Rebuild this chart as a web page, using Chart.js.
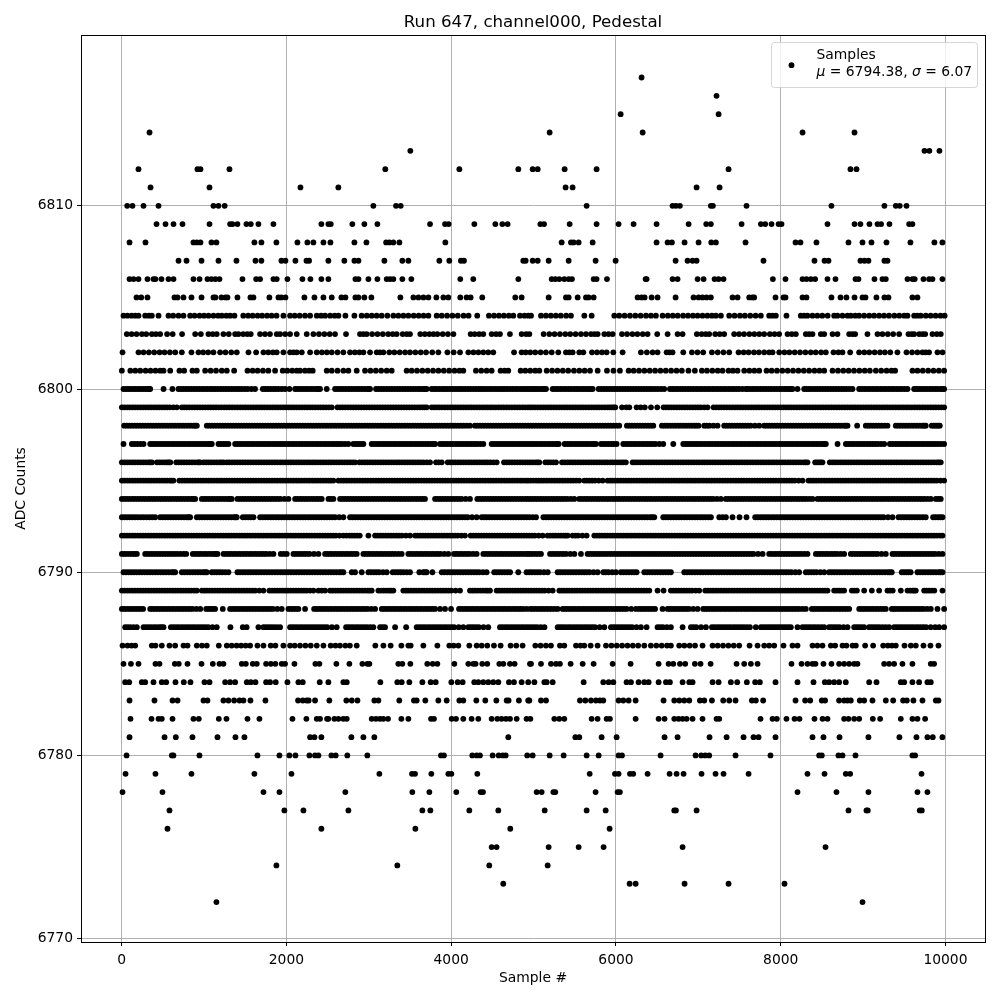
<!DOCTYPE html>
<html><head><meta charset="utf-8">
<style>html,body{margin:0;padding:0;background:#fff}#w{width:1000px;height:1000px}canvas{display:block}</style>
<script src="https://cdn.jsdelivr.net/npm/chart.js@4/dist/chart.umd.min.js"></script>
</head><body><div id="w"><canvas id="c" width="1000" height="1000"></canvas></div>
<script>
const chartTitle="Run 647, channel000, Pedestal";
const xLabel="Sample #";
const yLabel="ADC Counts";
const seriesName="Samples";
const meanText="6794.38";
const sigmaText="6.07";
const xTicks=[0,2000,4000,6000,8000,10000];
const yTicks=[6770,6780,6790,6800,6810];
const row6817=[6311];
const row6816=[7221];
const row6815=[6057,7246];
const row6814=[338,5195,6324,8265,8896];
const row6813=[3504,9745,9805,9927];
const row6812=[204,920,956,1308,3200,4099,4815,4989,5050,5377,5765,7367,8847,8920];
const row6811=[350,1066,2170,2630,5389,5474,6979,7258];
const row6810=[67,131,265,447,1114,1175,1250,3055,3330,3387,5644,6687,6728,6776,7152,7177,7585,8616,9259,9397,9445,9527];
const row6809=[423,532,629,738,1066,1316,1345,1405,1514,1567,1660,1842,2424,2509,2538,2800,2946,3104,3743,3925,3969,4281,4536,4621,4685,5082,5127,5438,5765,6032,6214,6493,6882,7096,7152,7525,7759,7812,7889,7974,8010,8568,8896,8968,9077,9175,9219,9320,9559,9599];
const row6808=[95,289,871,912,956,1090,1150,1611,1696,1878,2133,2254,2327,2449,2534,2825,2971,3210,3250,3298,3371,3929,5341,5454,5486,5547,5717,6493,6627,6679,6833,7003,7157,7213,7573,8180,8240,8434,8823,8993,9102,9284,9575,9866,9963];
const row6807=[690,787,969,1175,1393,1624,1696,1939,1988,2109,2243,2275,2509,2703,2825,2874,3189,3407,3480,3856,3977,4118,4155,4875,4904,4989,5050,5183,5426,5753,5996,6724,6869,6930,6979,7791,8410,8532,8580,8968,9017,9065,9259,9296];
const row6806=[95,144,204,313,386,410,483,568,629,871,945,1041,1090,1138,1187,1466,1632,1680,1842,1882,2012,2194,2291,2424,2509,2837,2874,2995,3104,3217,3258,3298,3407,3516,4110,4268,4815,5220,5264,5312,5373,5426,5466,5729,5765,5891,6360,6372,6687,6748,6991,7064,7197,7246,7306,7905,8058,8265,8313,8366,8418,8568,8665,8908,8944,9138,9235,9276,9539,9599,9627,9733,9801,9842,9963];
const row6805=[180,237,313,641,678,750,847,969,1114,1138,1211,1260,1284,1405,1563,1599,1793,1903,1939,1988,2218,2340,2449,2550,2667,2716,2837,2874,2946,3031,3383,3541,3602,3663,3723,3820,3905,3965,4110,4187,4236,4377,4778,4855,5183,5393,5426,5535,5636,5668,5729,6263,6311,6348,6433,6505,6724,6942,7003,7051,7100,7152,7415,7476,7618,7658,7678,7937,8034,8058,8265,8313,8616,8726,8798,8896,8993,9029,9162,9259,9308,9599,9660];
const row6804=[22,70,120,164,204,285,330,366,447,568,625,690,750,831,885,945,1000,1054,1114,1170,1215,1270,1316,1369,1476,1535,1590,1650,1705,1765,1820,1880,1963,2044,2100,2160,2225,2287,2368,2420,2469,2530,2585,2631,2716,2825,2913,2975,3035,3095,3156,3225,3298,3359,3420,3480,3545,3605,3665,3723,3824,3885,3950,4015,4080,4150,4211,4316,4458,4520,4580,4640,4700,4754,4835,4890,4936,4969,5090,5150,5210,5270,5330,5395,5454,5616,5705,5980,6040,6105,6170,6235,6300,6365,6425,6485,6566,6630,6690,6750,6815,6875,6935,6991,7051,7110,7165,7213,7274,7375,7440,7505,7565,7630,7695,7759,7860,7900,7941,8070,8244,8285,8325,8386,8445,8505,8570,8649,8689,8750,8811,8851,8905,8952,9013,9075,9134,9195,9255,9315,9380,9440,9500,9539,9620,9660,9700,9761,9820,9880,9940,9990];
const row6803=[62,120,180,245,298,366,415,467,551,619,733,892,961,1053,1105,1154,1235,1300,1377,1417,1475,1525,1567,1680,1740,1800,1882,1923,1985,2044,2125,2246,2327,2395,2460,2525,2590,2723,2893,2934,2974,3040,3105,3170,3235,3290,3338,3411,3460,3500,3625,3680,3735,3785,3832,3897,3960,4027,4236,4285,4340,4390,4491,4545,4592,4713,4855,4910,4949,5122,5191,5255,5320,5385,5445,5510,5575,5636,5697,5740,5778,5859,5910,5960,6073,6135,6200,6260,6325,6384,6501,6627,6748,6809,6982,7040,7090,7132,7205,7260,7314,7435,7495,7555,7620,7680,7740,7799,7868,7925,7981,8083,8135,8184,8305,8345,8386,8487,8528,8629,8689,8831,8870,8904,9053,9175,9235,9300,9365,9438,9551,9590,9620,9681,9720,9754,9842,9895,9943];
const row6802=[10,204,265,330,395,460,520,585,650,730,847,932,990,1050,1114,1195,1260,1330,1397,1539,1632,1721,1780,1835,1882,1963,2044,2085,2125,2186,2287,2368,2430,2490,2550,2620,2691,2772,2830,2885,2934,3015,3096,3135,3177,3249,3310,3375,3440,3500,3565,3630,3695,3770,3844,3954,4030,4107,4208,4270,4330,4390,4450,4511,4763,4855,4905,4960,5020,5085,5150,5220,5300,5393,5435,5474,5555,5604,5709,5770,5830,5887,5968,6081,6303,6375,6445,6505,6615,6650,6687,6817,6922,6990,7059,7165,7235,7305,7375,7488,7550,7610,7675,7735,7800,7860,7901,7982,8045,8105,8170,8235,8300,8365,8425,8490,8548,8641,8700,8750,8843,8952,9015,9075,9140,9205,9265,9330,9417,9527,9595,9660,9721,9760,9801,9903,9964];
const row6801=[2,105,165,225,290,350,410,467,508,589,701,758,859,912,1013,1080,1145,1215,1276,1365,1527,1590,1650,1715,1780,1862,1955,2010,2070,2125,2165,2225,2275,2319,2489,2550,2620,2691,2752,2853,2954,3020,3085,3150,3217,3278,3459,3520,3585,3650,3715,3780,3845,3910,3975,4040,4100,4147,4300,4365,4430,4491,4600,4650,4693,4843,4900,4960,5020,5070,5159,5225,5290,5355,5420,5490,5555,5620,5685,5778,5891,5970,6048,6154,6215,6280,6345,6410,6475,6540,6605,6670,6735,6800,6880,6958,7043,7105,7170,7235,7294,7367,7420,7476,7557,7620,7680,7739,7828,7890,7955,8020,8085,8150,8215,8280,8345,8410,8470,8528,8629,8695,8760,8825,8890,8955,9020,9082,9155,9220,9285,9345,9389,9599,9660,9725,9790,9855,9920,9984];
const row6800=[22,80,140,200,260,320,346,508,616,689,750,815,880,945,1010,1075,1135,1200,1265,1330,1395,1460,1530,1619,1713,1775,1840,1905,1983,2036,2105,2170,2235,2300,2365,2408,2489,2590,2655,2720,2785,2850,2915,2980,3015,3087,3150,3215,3280,3345,3410,3475,3540,3605,3660,3702,3763,3825,3890,3950,4015,4080,4140,4205,4270,4335,4395,4460,4525,4590,4650,4715,4780,4845,4905,4960,4989,5040,5100,5151,5232,5295,5360,5425,5490,5550,5610,5670,5717,5790,5855,5920,5985,6050,6115,6180,6245,6310,6375,6440,6510,6586,6655,6715,6780,6845,6910,6975,7040,7105,7170,7235,7300,7365,7430,7495,7577,7597,7660,7725,7790,7855,7920,7985,8050,8105,8143,8204,8285,8345,8410,8475,8540,8605,8670,8735,8800,8871,8952,9015,9080,9145,9210,9275,9340,9405,9470,9539,9620,9680,9745,9810,9875,9940,9984];
const more6800=[51,110,170,230,290,333,720,782,847,912,977,1042,1105,1167,1232,1297,1362,1427,1495,1575,1744,1807,1872,1944,2137,2202,2267,2332,2386,2622,2687,2752,2817,2882,2947,2997,3118,3182,3247,3312,3377,3442,3507,3572,3632,3681,3794,3857,3920,3982,4047,4110,4172,4237,4302,4365,4427,4492,4557,4620,4682,4747,4812,4875,4932,5014,5070,5125,5263,5327,5392,5457,5520,5580,5640,5693,5822,5887,5952,6017,6082,6147,6212,6277,6342,6407,6475,6548,6685,6747,6812,6877,6942,7007,7072,7137,7202,7267,7332,7397,7462,7536,7628,7692,7757,7822,7887,7952,8017,8077,8124,8315,8377,8442,8507,8572,8637,8702,8767,8835,8983,9047,9112,9177,9242,9307,9372,9437,9505,9650,9712,9777,9842,9907,9962];
const row6799=[2,65,130,195,260,325,390,455,520,585,669,730,790,855,920,985,1050,1115,1180,1245,1310,1375,1440,1505,1570,1635,1700,1765,1830,1895,1960,2025,2090,2155,2220,2285,2350,2415,2480,2550,2619,2680,2745,2810,2875,2940,3005,3070,3135,3200,3265,3330,3395,3460,3525,3590,3650,3702,3763,3825,3890,3955,4020,4085,4150,4215,4280,4345,4410,4475,4540,4605,4670,4735,4800,4865,4930,4985,5050,5115,5180,5245,5310,5375,5440,5505,5570,5635,5700,5765,5830,5895,5950,5992,6073,6125,6162,6251,6300,6350,6425,6501,6578,6640,6705,6770,6835,6900,6965,7030,7112,7185,7250,7315,7380,7445,7510,7575,7640,7705,7770,7835,7900,7965,8030,8095,8160,8225,8290,8355,8420,8485,8550,8615,8680,8745,8810,8875,8940,9005,9070,9135,9200,9265,9330,9395,9460,9525,9590,9655,9720,9785,9850,9915,9984];
const more6799=[33,97,162,227,292,357,422,487,552,627,760,822,887,952,1017,1082,1147,1212,1277,1342,1407,1472,1537,1602,1667,1732,1797,1862,1927,1992,2057,2122,2187,2252,2317,2382,2447,2515,2650,2712,2777,2842,2907,2972,3037,3102,3167,3232,3297,3362,3427,3492,3557,3620,3676,3794,3857,3922,3987,4052,4117,4182,4247,4312,4377,4442,4507,4572,4637,4702,4767,4832,4897,4957,5017,5082,5147,5212,5277,5342,5407,5472,5537,5602,5667,5732,5797,5862,5922,5971,6608,6672,6737,6802,6867,6932,6997,7071,7217,7282,7347,7412,7477,7542,7607,7672,7737,7802,7867,7932,7997,8062,8127,8192,8257,8322,8387,8452,8517,8582,8647,8712,8777,8842,8907,8972,9037,9102,9167,9232,9297,9362,9427,9492,9557,9622,9687,9752,9817,9882,9950];
const row6798=[30,95,160,225,290,355,420,485,550,615,680,745,810,875,912,1033,1095,1160,1225,1290,1355,1420,1485,1550,1615,1680,1745,1810,1875,1940,2005,2070,2135,2200,2265,2330,2395,2460,2525,2590,2655,2720,2785,2850,2915,2980,3045,3110,3175,3240,3305,3370,3435,3500,3565,3630,3695,3760,3825,3890,3955,4020,4085,4150,4228,4288,4350,4415,4480,4545,4610,4675,4740,4805,4870,4935,4995,5060,5125,5190,5255,5320,5385,5450,5515,5580,5645,5710,5775,5840,5905,5970,6040,6133,6195,6260,6325,6390,6453,6558,6620,6685,6750,6815,6880,6945,7003,7072,7135,7233,7314,7375,7440,7505,7570,7635,7739,7800,7860,7925,7990,8055,8120,8185,8250,8315,8380,8445,8510,8575,8640,8705,8770,8811,8928,9033,9095,9160,9225,9296,9397,9460,9525,9590,9655,9720,9761,9834,9885,9931];
const more6798=[62,127,192,257,322,387,452,517,582,647,712,777,842,893,1064,1127,1192,1257,1322,1387,1452,1517,1582,1647,1712,1777,1842,1907,1972,2037,2102,2167,2232,2297,2362,2427,2492,2557,2622,2687,2752,2817,2882,2947,3012,3077,3142,3207,3272,3337,3402,3467,3532,3597,3662,3727,3792,3857,3922,3987,4052,4117,4189,4319,4382,4447,4512,4577,4642,4707,4772,4837,4902,4965,5027,5092,5157,5222,5287,5352,5417,5482,5547,5612,5677,5742,5807,5872,5937,6005,6164,6227,6292,6357,6421,6589,6652,6717,6782,6847,6912,6974,7103,7184,7344,7407,7472,7537,7602,7687,7830,7892,7957,8022,8087,8152,8217,8282,8347,8412,8477,8542,8607,8672,8737,8790,9064,9127,9192,9260,9428,9492,9557,9622,9687,9740,9859,9908];
const row6797=[22,123,190,265,346,410,475,540,605,670,735,800,865,930,995,1060,1094,1175,1235,1296,1377,1440,1505,1570,1635,1700,1765,1830,1895,1960,2025,2090,2155,2220,2285,2350,2415,2480,2545,2610,2675,2752,2813,2875,2934,3035,3100,3165,3230,3295,3360,3425,3490,3555,3620,3685,3750,3804,3864,3925,3990,4055,4120,4185,4250,4315,4390,4491,4555,4620,4685,4750,4815,4880,4945,5005,5070,5135,5200,5265,5305,5377,5440,5505,5570,5635,5700,5757,5818,5880,5945,6008,6089,6155,6220,6285,6350,6415,6480,6574,6696,6817,6880,6945,7010,7075,7140,7205,7270,7335,7400,7465,7530,7595,7660,7725,7790,7855,7920,7985,8050,8115,8180,8245,8310,8375,8440,8505,8548,8690,8791,8855,8920,8985,9050,9115,9180,9256,9325,9390,9455,9520,9585,9650,9715,9780,9845,9910,9984];
const more6797=[156,227,378,442,507,572,637,702,767,832,897,962,1027,1077,1205,1265,1408,1472,1537,1602,1667,1732,1797,1862,1927,1992,2057,2122,2187,2252,2317,2382,2447,2512,2577,2642,2713,2844,2905,3067,3132,3197,3262,3327,3392,3457,3522,3587,3652,3717,3777,3894,3957,4022,4087,4152,4217,4282,4352,4523,4587,4652,4717,4782,4847,4912,4975,5037,5102,5167,5232,5285,5408,5472,5537,5602,5667,5728,5849,5912,5976,6122,6187,6252,6317,6382,6447,6527,6848,6912,6977,7042,7107,7172,7237,7302,7367,7432,7497,7562,7627,7692,7757,7822,7887,7952,8017,8082,8147,8212,8277,8342,8407,8472,8526,8823,8887,8952,9017,9082,9147,9218,9357,9422,9487,9552,9617,9682,9747,9812,9877,9947];
const row6796=[2,65,130,195,260,325,368,428,490,550,590,662,725,790,855,920,954,994,1055,1120,1185,1236,1276,1340,1405,1470,1535,1600,1665,1730,1795,1860,1925,1990,2055,2120,2185,2250,2315,2380,2445,2510,2575,2640,2705,2770,2833,2886,2950,3015,3080,3145,3210,3275,3340,3405,3470,3535,3600,3665,3743,3816,3885,3958,4020,4085,4150,4215,4280,4345,4410,4475,4552,4641,4705,4770,4835,4900,4960,5025,5070,5143,5205,5272,5345,5410,5475,5540,5605,5670,5735,5800,5865,5930,5995,6060,6120,6202,6265,6330,6395,6460,6525,6590,6655,6720,6785,6850,6915,6980,7045,7110,7175,7240,7305,7370,7435,7500,7565,7630,7695,7760,7825,7890,7955,8020,8085,8150,8215,8280,8325,8418,8465,8507,8596,8660,8725,8790,8855,8920,8985,9050,9115,9180,9245,9310,9375,9440,9505,9570,9635,9700,9765,9830,9895,9943];
const more6796=[33,97,162,227,292,346,459,520,570,693,757,822,887,937,1024,1087,1152,1210,1308,1372,1437,1502,1567,1632,1697,1762,1827,1892,1957,2022,2087,2152,2217,2282,2347,2412,2477,2542,2607,2672,2737,2801,2918,2982,3047,3112,3177,3242,3307,3372,3437,3502,3567,3632,3704,3850,3989,4052,4117,4182,4247,4312,4377,4442,4513,4673,4737,4802,4867,4930,4992,5047,5174,5238,5377,5442,5507,5572,5637,5702,5767,5832,5897,5962,6027,6090,6233,6297,6362,6427,6492,6557,6622,6687,6752,6817,6882,6947,7012,7077,7142,7207,7272,7337,7402,7467,7532,7597,7662,7727,7792,7857,7922,7987,8052,8117,8182,8247,8302,8441,8486,8628,8692,8757,8822,8887,8952,9017,9082,9147,9212,9277,9342,9407,9472,9537,9602,9667,9732,9797,9862,9919];
const row6795=[2,65,130,195,260,325,390,455,520,585,628,700,765,830,895,960,1025,1090,1155,1215,1276,1340,1405,1470,1535,1600,1665,1730,1795,1860,1925,1990,2055,2120,2185,2250,2315,2380,2445,2510,2570,2631,2695,2760,2825,2890,2955,3020,3085,3150,3215,3280,3345,3410,3475,3540,3605,3670,3735,3800,3865,3930,3995,4060,4125,4190,4255,4320,4385,4450,4515,4580,4645,4710,4775,4840,4905,4960,5030,5090,5155,5220,5285,5350,5415,5480,5555,5616,5680,5745,5838,5899,5960,6025,6090,6155,6220,6285,6350,6415,6480,6545,6610,6675,6740,6805,6870,6935,7000,7065,7130,7195,7260,7325,7390,7455,7520,7585,7650,7715,7780,7845,7910,7975,8040,8105,8170,8265,8337,8400,8465,8530,8595,8660,8725,8790,8855,8920,8985,9050,9115,9180,9245,9310,9375,9440,9505,9570,9635,9700,9765,9830,9895,9984];
const more6795=[33,97,162,227,292,357,422,487,552,606,732,797,862,927,992,1057,1122,1185,1245,1308,1372,1437,1502,1567,1632,1697,1762,1827,1892,1957,2022,2087,2152,2217,2282,2347,2412,2477,2540,2663,2727,2792,2857,2922,2987,3052,3117,3182,3247,3312,3377,3442,3507,3572,3637,3702,3767,3832,3897,3962,4027,4092,4157,4222,4287,4352,4417,4482,4547,4612,4677,4742,4807,4872,4932,4995,5060,5122,5187,5252,5317,5382,5447,5517,5648,5712,5790,5930,5992,6057,6122,6187,6252,6317,6382,6447,6512,6577,6642,6707,6772,6837,6902,6967,7032,7097,7162,7227,7292,7357,7422,7487,7552,7617,7682,7747,7812,7877,7942,8007,8072,8137,8217,8368,8432,8497,8562,8627,8692,8757,8822,8887,8952,9017,9082,9147,9212,9277,9342,9407,9472,9537,9602,9667,9732,9797,9862,9940];
const row6794=[2,65,130,195,260,325,390,455,520,585,650,715,780,845,892,973,1035,1100,1165,1230,1295,1336,1405,1470,1535,1600,1665,1730,1795,1860,1925,2024,2105,2170,2235,2300,2365,2428,2510,2570,2651,2715,2780,2845,2910,2975,3040,3105,3170,3235,3300,3365,3430,3495,3560,3625,3682,3804,3865,3930,3995,4060,4125,4228,4317,4380,4445,4510,4575,4640,4705,4770,4835,4900,4960,5020,5085,5150,5215,5280,5345,5410,5494,5555,5620,5685,5750,5815,5880,5945,6010,6075,6140,6205,6270,6335,6400,6465,6530,6595,6660,6725,6790,6855,6920,6985,7050,7115,7180,7273,7334,7400,7465,7530,7595,7660,7725,7790,7855,7920,7985,8050,8115,8180,8245,8310,8386,8447,8510,8575,8640,8705,8770,8835,8900,8965,9030,9095,9160,9225,9290,9355,9420,9485,9550,9615,9680,9745,9822,9883,9943];
const more6794=[33,97,162,227,292,357,422,487,552,617,682,747,812,868,1004,1067,1132,1197,1262,1315,1437,1502,1567,1632,1697,1762,1827,1892,1975,2137,2202,2267,2332,2396,2540,2683,2747,2812,2877,2942,3007,3072,3137,3202,3267,3332,3397,3462,3527,3592,3653,3834,3897,3962,4027,4092,4176,4348,4412,4477,4542,4607,4672,4737,4802,4867,4930,4990,5052,5117,5182,5247,5312,5377,5452,5587,5652,5717,5782,5847,5912,5977,6042,6107,6172,6237,6302,6367,6432,6497,6562,6627,6692,6757,6822,6887,6952,7017,7082,7147,7226,7367,7432,7497,7562,7627,7692,7757,7822,7887,7952,8017,8082,8147,8212,8277,8348,8478,8542,8607,8672,8737,8802,8867,8932,8997,9062,9127,9192,9257,9322,9387,9452,9517,9582,9647,9712,9783,9913];
const row6793=[2,65,130,195,265,338,407,467,530,595,660,725,790,831,912,975,1040,1105,1170,1235,1300,1365,1397,1470,1535,1600,1680,1745,1810,1875,1940,2005,2070,2135,2200,2265,2330,2395,2460,2525,2590,2691,2772,2835,2900,2965,3030,3095,3160,3225,3290,3355,3420,3485,3550,3615,3680,3745,3810,3875,3940,4005,4070,4135,4200,4309,4370,4430,4495,4560,4625,4690,4755,4820,4885,4950,5030,5119,5180,5245,5310,5375,5440,5505,5570,5635,5700,5765,5830,5895,5960,6025,6090,6155,6220,6285,6350,6415,6465,6574,6635,6700,6765,6830,6895,6960,7025,7090,7153,7254,7335,7415,7500,7585,7690,7755,7820,7885,7950,8015,8080,8145,8210,8275,8340,8405,8470,8535,8600,8665,8730,8795,8860,8925,8990,9055,9120,9185,9250,9357,9430,9495,9560,9625,9690,9761,9850,9910,9964];
const more6793=[33,97,162,230,302,372,498,562,627,692,757,810,943,1007,1072,1137,1202,1267,1332,1381,1502,1567,1712,1777,1842,1907,1972,2037,2102,2167,2232,2297,2362,2427,2492,2557,2640,2803,2867,2932,2997,3062,3127,3192,3257,3322,3387,3452,3517,3582,3647,3712,3777,3842,3907,3972,4037,4102,4167,4254,4400,4462,4527,4592,4657,4722,4787,4852,4917,4990,5150,5212,5277,5342,5407,5472,5537,5602,5667,5732,5797,5862,5927,5992,6057,6122,6187,6252,6317,6382,6440,6605,6667,6732,6797,6862,6927,6992,7057,7122,7295,7722,7787,7852,7917,7982,8047,8112,8177,8242,8307,8372,8437,8502,8567,8632,8697,8762,8827,8892,8957,9022,9087,9152,9217,9303,9462,9527,9592,9657,9725,9880,9937];
const row6792=[2,65,130,195,260,325,390,455,520,585,650,715,780,845,910,975,1040,1105,1170,1235,1300,1365,1430,1495,1560,1625,1690,1755,1820,1885,1950,2015,2080,2145,2210,2275,2340,2405,2470,2535,2600,2691,2764,2825,2890,2995,3076,3140,3205,3270,3335,3400,3500,3561,3625,3690,3755,3820,3885,3950,4015,4080,4167,4236,4300,4365,4430,4495,4560,4625,4690,4755,4820,4885,4950,5015,5110,5170,5235,5300,5365,5414,5474,5540,5644,5737,5800,5865,5930,5995,6060,6125,6190,6255,6320,6385,6450,6515,6580,6645,6710,6775,6840,6905,6970,7035,7100,7165,7230,7295,7360,7425,7490,7555,7620,7685,7750,7815,7880,7945,8010,8075,8140,8205,8270,8335,8400,8465,8530,8595,8660,8725,8790,8855,8920,8985,9050,9115,9180,9245,9310,9375,9440,9505,9570,9635,9700,9765,9830,9895,9964];
const more6792=[33,97,162,227,292,357,422,487,552,617,682,747,812,877,942,1007,1072,1137,1202,1267,1332,1397,1462,1527,1592,1657,1722,1787,1852,1917,1982,2047,2112,2177,2242,2307,2372,2437,2502,2567,2645,2727,2795,2857,3108,3172,3237,3302,3367,3450,3593,3657,3722,3787,3852,3917,3982,4047,4123,4268,4332,4397,4462,4527,4592,4657,4722,4787,4852,4917,4982,5062,5202,5267,5332,5390,5507,5592,5768,5832,5897,5962,6027,6092,6157,6222,6287,6352,6417,6482,6547,6612,6677,6742,6807,6872,6937,7002,7067,7132,7197,7262,7327,7392,7457,7522,7587,7652,7717,7782,7847,7912,7977,8042,8107,8172,8237,8302,8367,8432,8497,8562,8627,8692,8757,8822,8887,8952,9017,9082,9147,9212,9277,9342,9407,9472,9537,9602,9667,9732,9797,9862,9932];
const row6791=[2,65,130,184,285,350,415,480,545,610,675,750,783,863,925,990,1055,1120,1163,1236,1300,1365,1430,1495,1560,1625,1690,1755,1842,1931,2004,2085,2150,2215,2280,2388,2469,2530,2595,2660,2725,2790,2853,2934,2995,3060,3125,3190,3255,3320,3399,3480,3545,3610,3675,3740,3805,3870,3965,4034,4095,4160,4225,4309,4390,4455,4520,4585,4650,4715,4780,4845,4910,4960,5025,5090,5200,5265,5330,5395,5495,5575,5656,5720,5785,5850,5915,5980,6045,6110,6175,6240,6305,6370,6435,6500,6565,6630,6695,6760,6825,6890,6955,7020,7085,7150,7215,7280,7345,7410,7475,7540,7605,7670,7780,7860,7925,7990,8055,8120,8185,8250,8325,8427,8490,8555,8620,8685,8770,8851,8915,8980,9045,9110,9175,9276,9357,9420,9485,9550,9615,9680,9745,9810,9875,9964];
const more6791=[33,97,157,317,382,447,512,577,642,712,894,957,1022,1087,1141,1268,1332,1397,1462,1527,1592,1657,1722,1798,1967,2117,2182,2247,2334,2499,2562,2627,2692,2757,2822,2964,3027,3092,3157,3222,3287,3360,3512,3577,3642,3707,3772,3837,3917,4064,4127,4192,4267,4422,4487,4552,4617,4682,4747,4812,4877,4935,4992,5057,5232,5297,5362,5445,5688,5752,5817,5882,5947,6012,6077,6142,6207,6272,6337,6402,6467,6532,6597,6662,6727,6792,6857,6922,6987,7052,7117,7182,7247,7312,7377,7442,7507,7572,7637,7725,7892,7957,8022,8087,8152,8217,8287,8458,8522,8587,8652,8727,8883,8947,9012,9077,9142,9225,9388,9452,9517,9582,9647,9712,9777,9842,9919];
const row6790=[22,85,150,215,280,345,410,475,540,605,649,730,795,860,925,990,1033,1094,1155,1220,1296,1405,1470,1535,1600,1665,1730,1795,1860,1925,1990,2055,2120,2185,2250,2315,2380,2445,2510,2575,2640,2691,2793,2833,2914,2995,3060,3125,3217,3290,3355,3420,3500,3613,3660,3702,3772,3885,3950,4015,4080,4145,4210,4275,4340,4430,4522,4585,4650,4715,4814,4915,4950,5015,5080,5172,5292,5355,5420,5485,5550,5615,5680,5778,5847,5910,6000,6060,6125,6190,6251,6344,6410,6475,6540,6605,6667,6829,6895,6960,7025,7090,7155,7220,7285,7350,7415,7480,7545,7610,7675,7740,7805,7870,7935,8000,8065,8130,8224,8305,8370,8435,8528,8588,8650,8715,8780,8845,8910,8975,9040,9105,9170,9235,9300,9348,9469,9525,9578,9660,9725,9790,9855,9920,9964];
const more6790=[53,117,182,247,312,377,442,507,572,627,762,827,892,957,1012,1124,1187,1258,1437,1502,1567,1632,1697,1762,1827,1892,1957,2022,2087,2152,2217,2282,2347,2412,2477,2542,2607,2665,3027,3092,3171,3322,3387,3460,3681,3917,3982,4047,4112,4177,4242,4307,4385,4553,4617,4682,4982,5047,5126,5323,5387,5452,5517,5582,5647,5729,5878,5955,6092,6157,6220,6377,6442,6507,6572,6636,6862,6927,6992,7057,7122,7187,7252,7317,7382,7447,7512,7577,7642,7707,7772,7837,7902,7967,8032,8097,8177,8337,8402,8481,8619,8682,8747,8812,8877,8942,9007,9072,9137,9202,9267,9324,9497,9551,9692,9757,9822,9887,9942];
const row6789=[2,65,130,195,260,325,390,455,520,585,650,715,780,845,912,973,1035,1100,1165,1230,1295,1360,1425,1490,1555,1620,1721,1793,1855,1920,1985,2050,2115,2180,2245,2327,2388,2469,2530,2595,2660,2725,2790,2855,2920,2985,3035,3116,3180,3245,3298,3419,3480,3545,3610,3675,3740,3805,3870,3935,4000,4107,4228,4290,4355,4420,4471,4552,4615,4680,4745,4810,4875,4940,5005,5070,5135,5232,5313,5373,5434,5495,5560,5625,5690,5755,5820,5885,5950,6015,6080,6145,6210,6275,6340,6405,6505,6578,6667,6730,6795,6860,6925,7011,7084,7145,7210,7275,7340,7405,7470,7535,7600,7665,7730,7795,7860,7925,7990,8055,8120,8185,8250,8315,8380,8445,8510,8568,8649,8710,8770,8863,8925,9013,9106,9195,9296,9360,9458,9539,9600,9640,9741,9800,9865,9964];
const more6789=[33,97,162,227,292,357,422,487,552,617,682,747,812,880,1004,1067,1132,1197,1262,1327,1392,1457,1522,1587,1670,1824,1887,1952,2017,2082,2147,2212,2286,2428,2562,2627,2692,2757,2822,2887,2952,3010,3148,3212,3271,3450,3512,3577,3642,3707,3772,3837,3902,3967,4053,4259,4322,4387,4445,4583,4647,4712,4777,4842,4907,4972,5037,5102,5183,5343,5404,5465,5527,5592,5657,5722,5787,5852,5917,5982,6047,6112,6177,6242,6307,6372,6698,6762,6827,6892,6968,7114,7177,7242,7307,7372,7437,7502,7567,7632,7697,7762,7827,7892,7957,8022,8087,8152,8217,8282,8347,8412,8477,8539,8680,8740,8894,9328,9570,9620,9770,9832];
const row6788=[2,65,130,195,260,346,407,470,535,600,665,730,795,860,954,1026,1080,1134,1227,1316,1380,1445,1510,1575,1640,1705,1770,1835,1943,2024,2085,2145,2226,2336,2400,2465,2530,2595,2660,2725,2790,2855,2920,2985,3076,3157,3220,3285,3350,3415,3480,3545,3610,3675,3740,3805,3925,3998,4095,4160,4225,4290,4355,4420,4485,4550,4615,4680,4745,4810,4875,4960,5025,5090,5155,5220,5293,5353,5415,5480,5545,5610,5675,5740,5805,5870,5935,6000,6065,6130,6243,6283,6345,6410,6475,6566,6627,6690,6755,6820,6885,6991,7059,7120,7185,7250,7315,7380,7445,7510,7575,7640,7705,7770,7835,7900,7965,8030,8095,8160,8225,8305,8378,8440,8505,8570,8635,8700,8765,8831,8953,9015,9080,9145,9210,9276,9349,9410,9475,9540,9605,9670,9735,9822,9903,9984];
const more6788=[33,97,162,227,376,438,502,567,632,697,762,827,907,1053,1107,1348,1412,1477,1542,1607,1672,1737,1802,1889,2054,2115,2368,2432,2497,2562,2627,2692,2757,2822,2887,2952,3030,3188,3252,3317,3382,3447,3512,3577,3642,3707,3772,3865,4127,4192,4257,4322,4387,4452,4517,4582,4647,4712,4777,4842,4917,4992,5057,5122,5187,5256,5384,5447,5512,5577,5642,5707,5772,5837,5902,5967,6032,6097,6186,6314,6377,6442,6658,6722,6787,6852,6938,7089,7152,7217,7282,7347,7412,7477,7542,7607,7672,7737,7802,7867,7932,7997,8062,8127,8192,8265,8409,8472,8537,8602,8667,8732,8798,8984,9047,9112,9177,9243,9379,9442,9507,9572,9637,9702,9778];
const row6787=[42,105,184,265,330,395,460,508,597,660,725,790,855,920,985,1050,1154,1320,1470,1517,1660,1721,1785,1850,1923,2044,2105,2170,2235,2300,2365,2430,2495,2610,2724,2785,2850,2915,2980,3055,3137,3197,3319,3453,3581,3645,3710,3775,3840,3905,3970,4035,4147,4208,4270,4335,4450,4592,4655,4720,4785,4850,4915,4980,5045,5132,5293,5355,5420,5485,5550,5615,5680,5745,5859,5939,6000,6065,6130,6195,6303,6372,6505,6570,6667,6809,6910,6975,7092,7165,7230,7295,7360,7425,7490,7555,7626,7698,7759,7820,7880,7941,8000,8062,8123,8204,8265,8330,8395,8460,8528,8588,8650,8715,8811,8892,8950,9013,9074,9135,9200,9276,9316,9377,9440,9505,9570,9635,9700,9765,9875,9923,9984];
const more6787=[73,144,297,362,427,484,628,692,757,822,887,952,1017,1102,1752,1817,1886,2074,2137,2202,2267,2332,2397,2462,2552,2754,2817,2882,2947,3017,3167,3613,3677,3742,3807,3872,3937,4002,4091,4239,4302,4392,4623,4687,4752,4817,4882,4947,5012,5088,5324,5387,5452,5517,5582,5647,5712,5802,5969,6032,6097,6162,6249,6537,6618,6942,7033,7197,7262,7327,7392,7457,7522,7590,7789,7850,7910,7970,8031,8092,8297,8362,8427,8494,8619,8682,8763,8921,8981,9104,9167,9238,9408,9472,9537,9602,9667,9732,9820];
const row6786=[10,70,120,164,366,410,487,580,649,750,799,912,975,1033,1179,1276,1335,1395,1450,1505,1559,1648,1721,1809,1866,1963,2044,2100,2165,2230,2295,2368,2449,2537,2595,2650,2715,2770,2853,3079,3177,3265,3395,3480,3508,3662,3832,3977,4030,4087,4220,4309,4370,4438,4519,4600,4721,4790,4867,5021,5085,5150,5211,5320,5373,5515,5570,5616,5693,5777,5879,5945,6010,6075,6140,6205,6270,6344,6424,6490,6555,6620,6667,6768,6830,6895,6960,7051,7173,7235,7300,7365,7430,7496,7622,7719,7800,7860,7921,8034,8143,8204,8386,8445,8507,8609,8661,8750,8798,8872,8912,9025,9122,9244,9300,9350,9397,9503,9580,9640,9733,9818,9915];
const row6785=[22,112,204,410,459,645,693,799,969,1106,1187,1235,1458,1507,1591,1640,1753,1810,1866,1943,1983,2097,2351,2400,2606,2764,2922,2983,3007,3358,3407,3504,3710,3775,3832,4038,4208,4268,4296,4377,4438,4584,4633,4713,4770,4956,4969,5090,5211,5272,5320,5450,5596,5729,5960,6178,6518,6639,6696,6777,6841,6958,7027,7149,7464,7557,7638,7719,8131,8253,8325,8386,8422,8519,8616,8709,8770,8831,8892,8932,9256,9316,9377,9478,9599,9822,9862];
const row6784=[42,91,244,285,386,487,540,653,754,835,1005,1066,1256,1316,1377,1519,1567,1624,1753,1801,1870,2012,2145,2198,2404,2509,2691,2732,3140,3346,3399,3492,3650,3751,3812,4002,4079,4139,4280,4329,4390,4450,4511,4572,4701,4762,4855,4935,5010,5131,5159,5232,5608,5846,5911,5968,6129,6182,6275,6344,6397,6518,6607,6655,6809,6890,6930,7173,7246,7395,7472,7589,7690,7747,7937,8204,8398,8536,8588,8649,8709,8790,9074,9163,9458,9499,9599,9680,9781,9822];
const row6783=[95,398,617,678,993,1041,1235,1296,1365,1430,1478,1563,1745,2141,2198,2246,2270,2347,2521,2727,2793,2862,3067,3116,3370,3548,3581,3686,3844,3945,4099,4147,4305,4414,4548,4673,4697,4822,4935,4949,5090,5151,5563,5628,5697,5757,5806,5846,6032,6089,6154,6239,6578,6708,6769,6829,6890,7019,7072,7165,7302,7375,7452,7650,7698,7787,8180,8297,8358,8499,8539,8709,8770,8811,8851,8960,9013,9114,9276,9365,9486,9531,9611,9721,9883,9915];
const row6782=[107,362,447,487,617,871,936,1179,1272,1527,1672,2073,2242,2368,2408,2493,2509,2582,2631,2691,2732,3035,3087,3136,3176,3233,3395,3480,3755,3791,4006,4059,4147,4248,4329,4491,4560,4612,4665,4714,4795,4915,4961,5252,5312,5373,5705,5777,5887,5927,6239,6518,6590,6708,6760,6809,6858,6930,7051,7221,7254,7755,7901,7953,8070,8168,8228,8410,8508,8568,8770,8823,8892,8953,9118,9207,9458,9599,9660,9753];
const row6781=[95,520,657,859,1163,1381,1490,2287,2340,2424,2788,2934,3067,4693,5507,5555,5826,6008,6590,6748,7136,7343,7549,7670,7731,7937,8386,8519,8714,9065,9441,9648,9781,9846,9963];
const row6780=[59,609,628,944,1648,1915,2036,2109,2279,2347,2388,2546,2598,2739,2982,3876,3912,4256,4309,4349,4503,4576,4625,4661,4923,4989,5195,5365,5644,5790,6032,6073,6542,6967,7035,7084,7132,7452,7876,8467,8499,8701,8750,8908,9599,9632];
const row6779=[47,410,847,1611,2061,3128,3524,3561,3759,3965,4002,4317,5681,5988,6032,6170,6210,6384,6651,6736,6821,7039,7209,7306,7610,8325,8532,8790,8843,9709];
const row6778=[10,495,1721,1915,2715,3528,3735,4062,4357,4386,5037,5098,5240,5264,5753,6020,6048,8204,8677,9065,9660,9781];
const row6777=[580,1975,2206,2752,3650,3747,4220,4572,5135,5644,5875,6708,6728,6979,8823,9041,9057,9688,9713];
const row6776=[556,2424,3565,4717,5923];
const row6775=[4491,4551,5183,5547,5850,6809,8544];
const row6774=[1878,3346,4462,5171];
const row6773=[4632,6166,6239,6833,7367,8046];
const row6772=[1150,8993];
const levels=[6772,6773,6774,6775,6776,6777,6778,6779,6780,6781,6782,6783,6784,6785,6786,6787,6788,6789,6790,6791,6792,6793,6794,6795,6796,6797,6798,6799,6800,6801,6802,6803,6804,6805,6806,6807,6808,6809,6810,6811,6812,6813,6814,6815,6816,6817];
const rows=[row6772,row6773,row6774,row6775,row6776,row6777,row6778,row6779,row6780,row6781,row6782,row6783,row6784,row6785,row6786,row6787,row6788,row6789,row6790,row6791,row6792,row6793,row6794,row6795,row6796,row6797,row6798,row6799,row6800,row6801,row6802,row6803,row6804,row6805,row6806,row6807,row6808,row6809,row6810,row6811,row6812,row6813,row6814,row6815,row6816,row6817];
const moreLevels=[6787,6788,6789,6790,6791,6792,6793,6794,6795,6796,6797,6798,6799,6800];
const moreRows=[more6787,more6788,more6789,more6790,more6791,more6792,more6793,more6794,more6795,more6796,more6797,more6798,more6799,more6800];
const points=[];
rows.forEach((r,i)=>r.forEach(x=>points.push({x:x,y:levels[i]})));
moreRows.forEach((r,i)=>r.forEach(x=>points.push({x:x,y:moreLevels[i]})));

const FONT='"DejaVu Sans"';
const frameAndLegend={
  id:'frameAndLegend',
  afterDatasetsDraw(chart){
    const {ctx,chartArea:a}=chart;
    ctx.save();
    ctx.strokeStyle='#000';ctx.lineWidth=1;
    ctx.strokeRect(Math.round(a.left)+.5,Math.round(a.top)+.5,Math.round(a.right-a.left),Math.round(a.bottom-a.top));
    const bx=771.5,by=42.5,bw=206,bh=45,r=3;
    ctx.beginPath();ctx.roundRect(bx,by,bw,bh,r);
    ctx.fillStyle='rgba(255,255,255,0.8)';ctx.fill();
    ctx.strokeStyle='rgba(204,204,204,0.8)';ctx.stroke();
    ctx.fillStyle='#000';
    ctx.beginPath();ctx.arc(791.5,65.2,2.9,0,Math.PI*2);ctx.fill();
    ctx.textBaseline='alphabetic';ctx.textAlign='left';
    ctx.font='13.89px '+FONT;
    ctx.fillText(seriesName,816.5,59);
    const segs=[['\u03bc',1],[' = '+meanText+', ',0],['\u03c3',1],[' = '+sigmaText,0]];
    let x=816.5;
    segs.forEach(([t,it])=>{
      ctx.font=(it?'italic ':'')+'13.89px '+FONT;
      ctx.fillText(t,x,76);
      x+=ctx.measureText(t).width;
    });
    ctx.restore();
  }
};
new Chart(document.getElementById('c'),{
  type:'scatter',
  data:{datasets:[{label:seriesName,data:points,pointRadius:2.9,pointHoverRadius:2.9,pointBorderWidth:0,pointBackgroundColor:'#000',backgroundColor:'#000',showLine:false}]},
  plugins:[frameAndLegend],
  options:{
    responsive:false,animation:false,
    layout:{padding:{left:0,right:15,top:0,bottom:0}},
    plugins:{
      legend:{display:false},tooltip:{enabled:false},
      title:{display:true,text:chartTitle,fullSize:false,color:'#000',font:{family:FONT,size:16.67,weight:'normal',lineHeight:1.2},padding:{top:13,bottom:2}}
    },
    scales:{
      x:{type:'linear',min:-494,max:10480,
        afterBuildTicks(s){s.ticks=xTicks.map(v=>({value:v}));},
        afterFit(s){s.height=58;},
        grid:{color:'#b0b0b0',lineWidth:1,tickColor:'#000',tickLength:4,drawTicks:true},
        border:{color:'#000',width:1},
        ticks:{color:'#000',font:{family:FONT,size:13.89},padding:6,maxRotation:0,autoSkip:false,callback:v=>String(v)},
        title:{display:true,text:xLabel,color:'#000',font:{family:FONT,size:13.89},padding:{top:2,bottom:13}}
      },
      y:{type:'linear',min:6769.82,max:6819.32,
        afterBuildTicks(s){s.ticks=yTicks.map(v=>({value:v}));},
        afterFit(s){s.width=81;},
        grid:{color:'#b0b0b0',lineWidth:1,tickColor:'#000',tickLength:4,drawTicks:true},
        border:{color:'#000',width:1},
        ticks:{color:'#000',font:{family:FONT,size:13.89},padding:4,autoSkip:false,callback:v=>String(v)},
        title:{display:true,text:yLabel,color:'#000',font:{family:FONT,size:13.89},padding:{top:13,bottom:4}}
      }
    }
  }
});
</script></body></html>
